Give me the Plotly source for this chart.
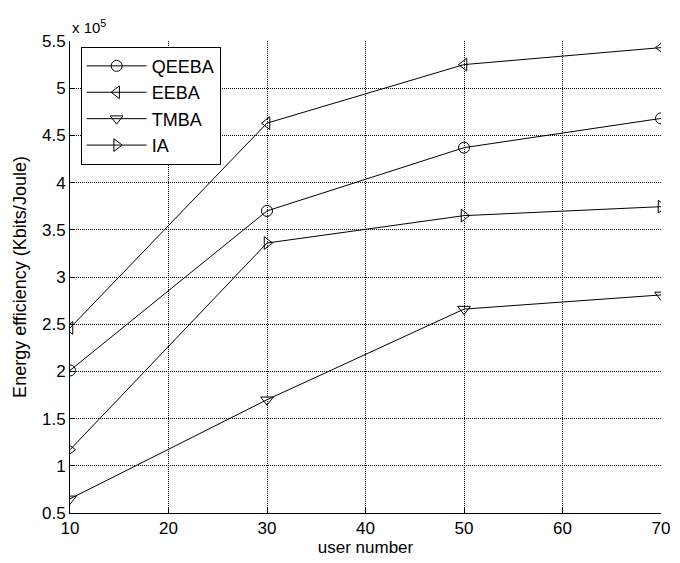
import plotly.graph_objects as go

users = [10, 30, 50, 70]
series_names = ["QEEBA", "EEBA", "TMBA", "IA"]
qeeba = [2.01, 3.70, 4.37, 4.68]
eeba = [2.46, 4.63, 5.25, 5.43]
tmba = [0.65, 1.70, 2.66, 2.81]
ia = [1.17, 3.36, 3.65, 3.745]
x_ticks = [10, 20, 30, 40, 50, 60, 70]
y_ticks = [0.5, 1, 1.5, 2, 2.5, 3, 3.5, 4, 4.5, 5, 5.5]
y_tick_labels = ["0.5", "1", "1.5", "2", "2.5", "3", "3.5", "4", "4.5", "5", "5.5"]

symbols = ["circle-open", "triangle-left-open", "triangle-down-open", "triangle-right-open"]
values = [qeeba, eeba, tmba, ia]

fig = go.Figure()
for name, vals, sym in zip(series_names, values, symbols):
    fig.add_trace(go.Scatter(
        x=users, y=vals, name=name, mode="lines+markers",
        line=dict(color="black", width=1),
        marker=dict(symbol=sym, size=11, color="black", line=dict(color="black", width=1)),
    ))

font_family = "Liberation Sans, Arial, sans-serif"
grid = dict(showgrid=True, gridcolor="black", griddash="1px,1px", gridwidth=1, zeroline=False)
fig.update_layout(
    width=680, height=563,
    margin=dict(l=70, r=10, t=41, b=50),
    paper_bgcolor="white", plot_bgcolor="white",
    font=dict(family=font_family, size=17, color="black"),
    showlegend=True,
    legend=dict(
        x=0.018, y=0.988, xanchor="left", yanchor="top",
        bgcolor="white", bordercolor="black", borderwidth=1,
        font=dict(size=18), itemwidth=60, tracegroupgap=0,
    ),
    xaxis=dict(
        range=[10, 70], tickvals=x_ticks, ticks="inside", ticklen=5,
        tickcolor="black", showline=True, linecolor="black", linewidth=1,
        mirror=False, **grid,
        title=dict(text="user number", font=dict(size=17), standoff=2),
    ),
    yaxis=dict(
        range=[0.5, 5.5], tickvals=y_ticks, ticktext=y_tick_labels,
        ticks="inside", ticklen=5, tickcolor="black",
        showline=True, linecolor="black", linewidth=1, mirror=False, **grid,
        title=dict(text="Energy efficiency (Kbits/Joule)", font=dict(size=18), standoff=10),
    ),
    xaxis2=dict(
        overlaying="x", side="top", anchor="y", range=[10, 70], tickvals=x_ticks,
        ticks="inside", ticklen=5, tickcolor="black", showticklabels=False,
        showline=False, showgrid=False, zeroline=False,
    ),
    yaxis2=dict(
        overlaying="y", side="right", anchor="x", range=[0.5, 5.5], tickvals=y_ticks,
        ticks="inside", ticklen=5, tickcolor="black", showticklabels=False,
        showline=False, showgrid=False, zeroline=False,
    ),
    annotations=[dict(
        text="x 10<sup>5</sup>", x=0, y=1, xref="paper", yref="paper",
        xanchor="left", yanchor="bottom", showarrow=False, yshift=3,
        font=dict(size=15),
    )],
)

fig.write_html("out.html")
